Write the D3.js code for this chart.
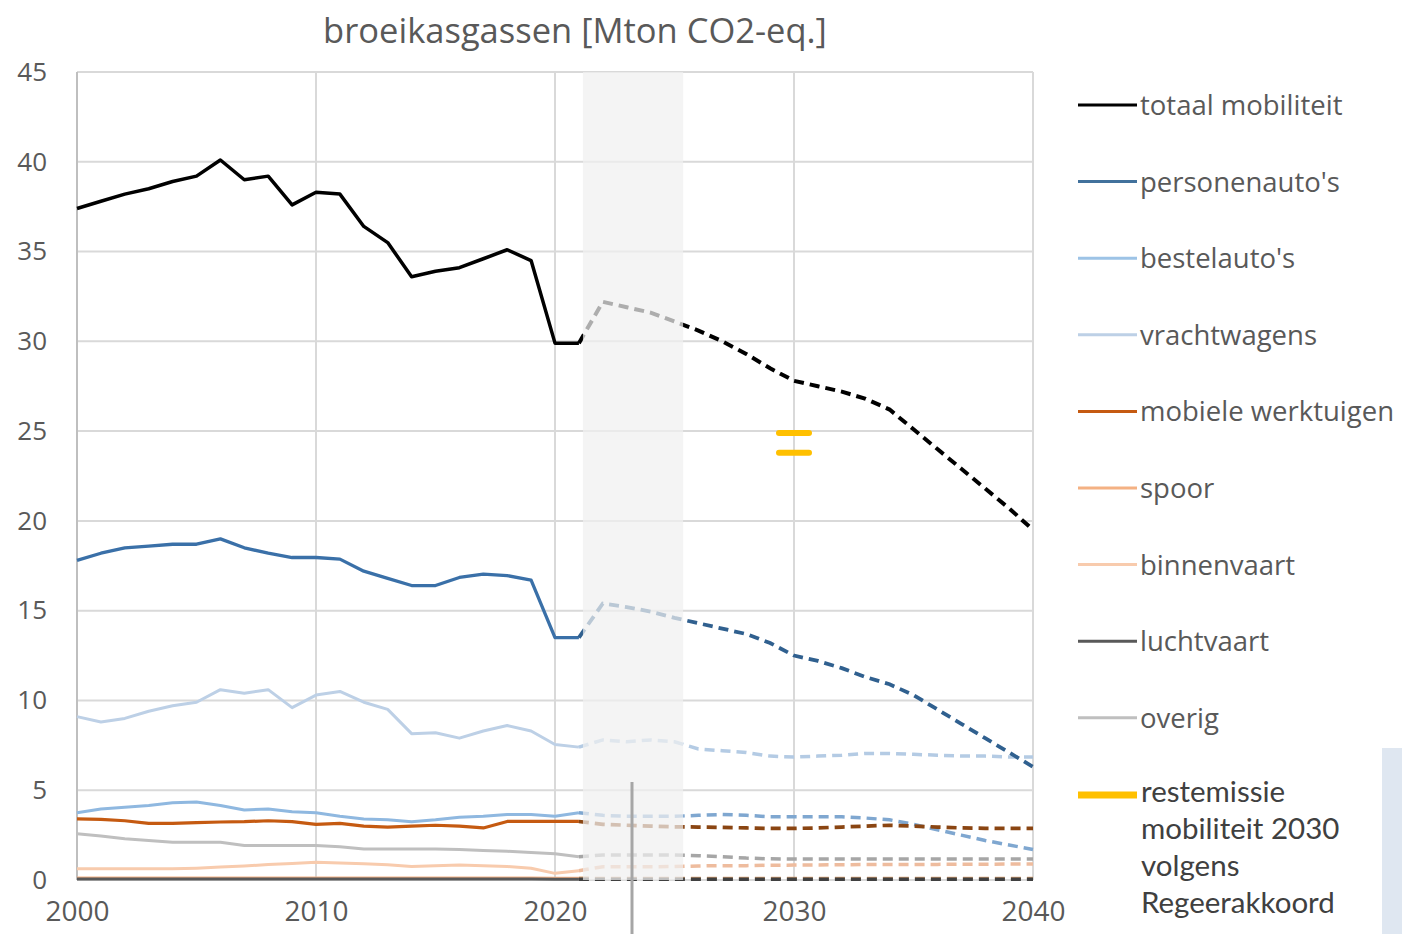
<!DOCTYPE html>
<html>
<head>
<meta charset="utf-8">
<script src="https://cdn.jsdelivr.net/npm/d3@7"></script>
<style>
  body { margin: 0; background: #ffffff; }
  svg { display: block; }
</style>
</head>
<body>
<svg id="chart" width="1402" height="934"></svg>
<script>
// ---------- DATA ----------
const titleText = "broeikasgassen [Mton CO2-eq.]";
const yTicks = [0, 5, 10, 15, 20, 25, 30, 35, 40, 45];
const xTicks = [2000, 2010, 2020, 2030, 2040];

const histYears = [2000,2001,2002,2003,2004,2005,2006,2007,2008,2009,2010,2011,2012,2013,2014,2015,2016,2017,2018,2019,2020,2021];
const projYears = [2021,2022,2023,2024,2025,2026,2027,2028,2029,2030,2031,2032,2033,2034,2035,2036,2037,2038,2039,2040];

const totaalHist = [37.4,37.8,38.2,38.5,38.9,39.2,40.1,39.0,39.2,37.6,38.3,38.2,36.4,35.5,33.6,33.9,34.1,34.6,35.1,34.5,29.9,29.9];
const totaalProj = [29.9,32.2,31.9,31.6,31.1,30.6,30.0,29.3,28.5,27.8,27.5,27.2,26.8,26.2,25.1,24.0,22.9,21.8,20.7,19.5];

const personenHist = [17.8,18.2,18.5,18.6,18.7,18.7,19.0,18.5,18.2,17.96,17.96,17.87,17.2,16.8,16.4,16.4,16.85,17.04,16.95,16.7,13.5,13.5];
const personenProj = [13.5,15.4,15.2,14.95,14.6,14.3,14.0,13.7,13.2,12.5,12.2,11.8,11.3,10.9,10.3,9.5,8.7,7.9,7.1,6.3];

const bestelHist = [3.75,3.95,4.05,4.15,4.3,4.35,4.15,3.9,3.95,3.8,3.75,3.55,3.4,3.35,3.25,3.35,3.5,3.55,3.65,3.65,3.55,3.75];
const bestelProj = [3.75,3.6,3.55,3.55,3.55,3.6,3.65,3.6,3.52,3.52,3.52,3.52,3.45,3.35,3.1,2.8,2.5,2.2,1.95,1.7];

const vrachtHist = [9.1,8.8,9.0,9.4,9.7,9.9,10.6,10.4,10.6,9.6,10.3,10.5,9.9,9.5,8.15,8.2,7.9,8.3,8.6,8.3,7.55,7.4];
const vrachtProj = [7.4,7.8,7.7,7.8,7.7,7.3,7.2,7.1,6.9,6.85,6.9,6.95,7.05,7.05,7.0,6.95,6.9,6.9,6.85,6.85];

const mobieleHist = [3.4,3.38,3.3,3.15,3.15,3.2,3.23,3.25,3.3,3.25,3.1,3.15,3.0,2.95,3.0,3.05,3.0,2.9,3.26,3.26,3.26,3.26];
const mobieleProj = [3.26,3.1,3.05,3.0,2.96,2.95,2.93,2.9,2.87,2.87,2.9,2.95,3.0,3.05,3.0,2.95,2.9,2.88,2.87,2.87];

const spoorHist = [0.12,0.12,0.12,0.12,0.12,0.12,0.12,0.12,0.12,0.12,0.12,0.12,0.12,0.12,0.12,0.12,0.12,0.12,0.12,0.12,0.11,0.11];
const spoorProj = [0.11,0.1,0.1,0.1,0.1,0.1,0.1,0.1,0.1,0.1,0.1,0.1,0.1,0.1,0.1,0.1,0.1,0.1,0.1,0.1];

const binnenHist = [0.62,0.62,0.62,0.62,0.62,0.66,0.72,0.78,0.86,0.92,0.99,0.95,0.9,0.85,0.75,0.8,0.84,0.8,0.75,0.65,0.37,0.52];
const binnenProj = [0.52,0.74,0.74,0.74,0.75,0.78,0.8,0.8,0.82,0.83,0.84,0.85,0.86,0.86,0.87,0.87,0.88,0.88,0.89,0.89];

const luchtHist = [0.05,0.05,0.05,0.05,0.05,0.05,0.05,0.05,0.05,0.05,0.05,0.05,0.05,0.05,0.05,0.05,0.05,0.05,0.05,0.05,0.04,0.04];
const luchtProj = [0.04,0.04,0.04,0.04,0.04,0.04,0.04,0.04,0.04,0.04,0.04,0.04,0.04,0.04,0.04,0.04,0.04,0.04,0.04,0.04];

const overigHist = [2.57,2.45,2.3,2.2,2.1,2.1,2.1,1.92,1.92,1.92,1.92,1.85,1.73,1.73,1.73,1.73,1.7,1.64,1.6,1.53,1.46,1.3];
const overigProj = [1.3,1.39,1.39,1.39,1.39,1.35,1.3,1.22,1.18,1.17,1.17,1.17,1.17,1.17,1.17,1.17,1.17,1.17,1.17,1.17];

const restYear = 2030;
const restValues = [24.9, 23.8];

const bandRange = [2021.17, 2025.36];

const seriesNames = ["totaal mobiliteit","personenauto's","bestelauto's","vrachtwagens","mobiele werktuigen","spoor","binnenvaart","luchtvaart","overig"];
const restLabelLines = ["restemissie","mobiliteit 2030","volgens","Regeerakkoord"];

// ---------- STYLE ----------
const seriesDefs = [
  {name: seriesNames[8], hist: overigHist,   proj: overigProj,   color: "#bfbfbf", pcolor: "#a6a6a6", w: 3},
  {name: seriesNames[5], hist: spoorHist,    proj: spoorProj,    color: "#f4b183", pcolor: "#d9a070", w: 2.5},
  {name: seriesNames[7], hist: luchtHist,    proj: luchtProj,    color: "#595959", pcolor: "#404040", w: 3},
  {name: seriesNames[6], hist: binnenHist,   proj: binnenProj,   color: "#f8cbad", pcolor: "#eebc9e", w: 3},
  {name: seriesNames[3], hist: vrachtHist,   proj: vrachtProj,   color: "#bdd0e6", pcolor: "#b4cbe4", w: 3},
  {name: seriesNames[2], hist: bestelHist,   proj: bestelProj,   color: "#8fb8e0", pcolor: "#7fa7d0", w: 3},
  {name: seriesNames[4], hist: mobieleHist,  proj: mobieleProj,  color: "#c55a11", pcolor: "#8a4512", w: 3.2},
  {name: seriesNames[1], hist: personenHist, proj: personenProj, color: "#3a70a8", pcolor: "#30608f", w: 3.3},
  {name: seriesNames[0], hist: totaalHist,   proj: totaalProj,   color: "#000000", pcolor: "#000000", w: 3.5}
];
const legendColors = {
  "totaal mobiliteit": "#000000", "personenauto's": "#41719c", "bestelauto's": "#9dc3e6",
  "vrachtwagens": "#bdd0e6", "mobiele werktuigen": "#c55a11", "spoor": "#f4b183",
  "binnenvaart": "#f8cbad", "luchtvaart": "#595959", "overig": "#bfbfbf"
};

const mLeft = 77, mRight = 1033, mTop = 72, mBottom = 880;
const svg = d3.select("#chart");

const x = d3.scaleLinear().domain([2000, 2040]).range([mLeft, mRight]);
const y = d3.scaleLinear().domain([0, 45]).range([mBottom, mTop]);

// gridlines
const grid = svg.append("g");
grid.selectAll("line.h").data(yTicks).join("line").attr("class", "h")
  .attr("x1", mLeft).attr("x2", mRight)
  .attr("y1", d => y(d)).attr("y2", d => y(d))
  .attr("stroke", "#d9d9d9").attr("stroke-width", 2);
grid.selectAll("line.v").data(xTicks).join("line").attr("class", "v")
  .attr("x1", d => x(d)).attr("x2", d => x(d))
  .attr("y1", mTop).attr("y2", mBottom)
  .attr("stroke", d => d === 2000 ? "#bfbfbf" : "#d9d9d9").attr("stroke-width", 2);

// axes
const yAxis = d3.axisLeft(y).tickValues(yTicks).tickSize(0).tickPadding(30);
const gy = svg.append("g").attr("transform", `translate(${mLeft},0)`).call(yAxis);
gy.select(".domain").remove();
gy.selectAll("text").attr("font-family", "Open Sans").attr("font-size", 26).attr("fill", "#595959");

const xAxis = d3.axisBottom(x).tickValues(xTicks).tickSize(0).tickPadding(21).tickFormat(d3.format("d"));
const gx = svg.append("g").attr("transform", `translate(0,${mBottom})`).call(xAxis);
gx.select(".domain").remove();
gx.selectAll("text").attr("font-family", "Open Sans").attr("font-size", 28).attr("fill", "#595959");

// lines
const lineGen = d3.line().x(d => x(d[0])).y(d => y(d[1]));
const lines = svg.append("g");
seriesDefs.forEach(s => {
  lines.append("path")
    .attr("d", lineGen(histYears.map((yr, i) => [yr, s.hist[i]])))
    .attr("fill", "none").attr("stroke", s.color).attr("stroke-width", s.w)
    .attr("stroke-linejoin", "round");
  lines.append("path")
    .attr("d", lineGen(projYears.map((yr, i) => [yr, s.proj[i]])))
    .attr("fill", "none").attr("stroke", s.pcolor).attr("stroke-width", s.w + 0.5)
    .attr("stroke-dasharray", "10,6");
});

// restemissie markers
svg.append("g").selectAll("line").data(restValues).join("line")
  .attr("x1", x(restYear) - 15).attr("x2", x(restYear) + 15)
  .attr("y1", d => y(d)).attr("y2", d => y(d))
  .attr("stroke", "#ffc000").attr("stroke-width", 6).attr("stroke-linecap", "round");

// band overlay
svg.append("rect")
  .attr("x", x(bandRange[0])).attr("width", x(bandRange[1]) - x(bandRange[0]))
  .attr("y", mTop).attr("height", mBottom - mTop)
  .attr("fill", "#f0f0f0").attr("opacity", 0.72);

// title
svg.append("text").attr("x", 575).attr("y", 43).attr("text-anchor", "middle")
  .attr("font-family", "Open Sans").attr("font-size", 34.5).attr("fill", "#595959")
  .text(titleText);

// legend
const legY0 = 105, legStep = 76.6;
const leg = svg.append("g");
seriesNames.forEach((n, i) => {
  const cy = legY0 + i * legStep;
  leg.append("line").attr("x1", 1078).attr("x2", 1137).attr("y1", cy).attr("y2", cy)
    .attr("stroke", legendColors[n]).attr("stroke-width", 3);
  leg.append("text").attr("x", 1140).attr("y", cy + 10)
    .attr("font-family", "Open Sans").attr("font-size", 27.5).attr("fill", "#595959")
    .text(n);
});
const restY = 795;
leg.append("line").attr("x1", 1078).attr("x2", 1137).attr("y1", restY).attr("y2", restY)
  .attr("stroke", "#ffc000").attr("stroke-width", 7);
restLabelLines.forEach((t, i) => {
  leg.append("text").attr("x", 1141).attr("y", 802 + i * 37)
    .attr("font-family", "Lato").attr("font-size", 29.5).attr("fill", "#404040")
    .text(t);
});

// decorative elements from the slide
svg.append("line").attr("x1", 632).attr("x2", 632).attr("y1", 782).attr("y2", 934)
  .attr("stroke", "#a6a6a6").attr("stroke-width", 3);
svg.append("rect").attr("x", 1382).attr("y", 748).attr("width", 20).attr("height", 186)
  .attr("fill", "#dfe7f1");
</script>
</body>
</html>
